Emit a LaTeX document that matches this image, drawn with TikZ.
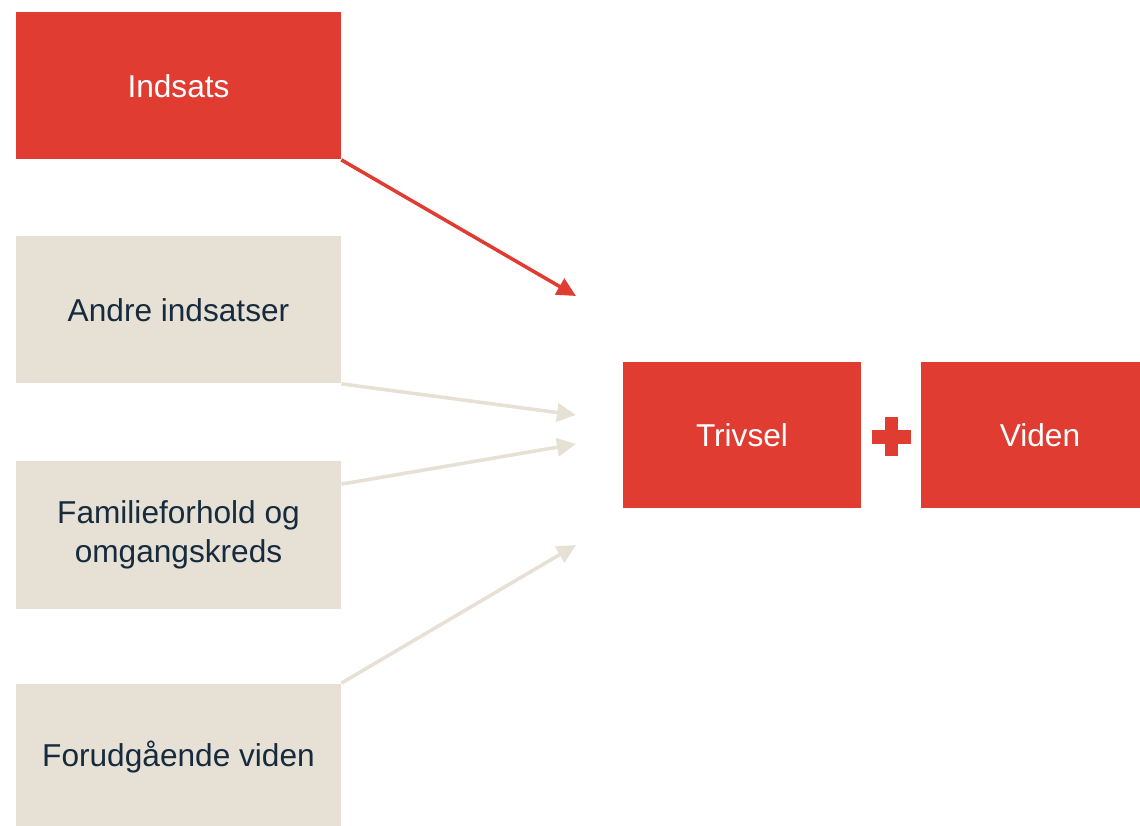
\documentclass[tikz,border=0pt]{standalone}
\usepackage{fontspec}
\setmainfont{Liberation Sans}
\usepackage{tikz}
\usetikzlibrary{arrows.meta,calc}
\definecolor{rod}{HTML}{E03C31}
\definecolor{sand}{HTML}{E6E0D5}
\definecolor{navy}{HTML}{172B3E}
\tikzset{boks/.style={minimum width=6.5cm, minimum height=2.94cm, align=center, inner sep=0pt, font=\fontsize{18}{22}\selectfont},
    rodboks/.style={boks, fill=rod, text=white},
    sandboks/.style={boks, fill=sand, text=navy},
    pil/.style={line width=2pt, -{Triangle[length=0.38cm,width=0.36cm]}}}

\begin{document}
\begin{tikzpicture}
    \useasboundingbox (0,0) rectangle (22.8,-16.52);
    \pgfmathsetmacro{\spidsx}{11.52}
    \node [rodboks] (indsats) at (3.57,-1.72) {Indsats};
    \node [sandboks] (andre) at (3.57,-6.20) {Andre indsatser};
    \node [sandboks] (familie) at (3.57,-10.70) {Familieforhold og\\omgangskreds};
    \node [sandboks] (forud) at (3.57,-15.14) {Forudgående viden};
    \node [rodboks, minimum width=4.76cm, minimum height=2.92cm] (trivsel) at (14.84,-8.7) {Trivsel};
    \node [rodboks, minimum width=4.76cm, minimum height=2.92cm] (viden) at (20.8,-8.7) {Viden};
    \coordinate (p1) at (\spidsx,-5.92);
    \coordinate (p2) at (\spidsx,-8.30);
    \coordinate (p3) at (\spidsx,-8.88);
    \coordinate (p4) at (\spidsx,-10.90);
    \draw [pil, rod] (indsats.south east) -- (p1);
    \draw [pil, sand] (andre.south east) -- (p2);
    \draw [pil, sand] ([yshift=-0.46cm] familie.north east) -- (p3);
    \draw [pil, sand] (forud.north east) -- (p4);
    % plus
    \coordinate (plus) at ($(trivsel.east)!0.5!(viden.west)+(0,-0.04)$);
    \fill [rod] ($(plus)+(-0.39,-0.135)$) rectangle ($(plus)+(0.39,0.135)$);
    \fill [rod] ($(plus)+(-0.13,-0.39)$) rectangle ($(plus)+(0.13,0.39)$);
\end{tikzpicture}
\end{document}
